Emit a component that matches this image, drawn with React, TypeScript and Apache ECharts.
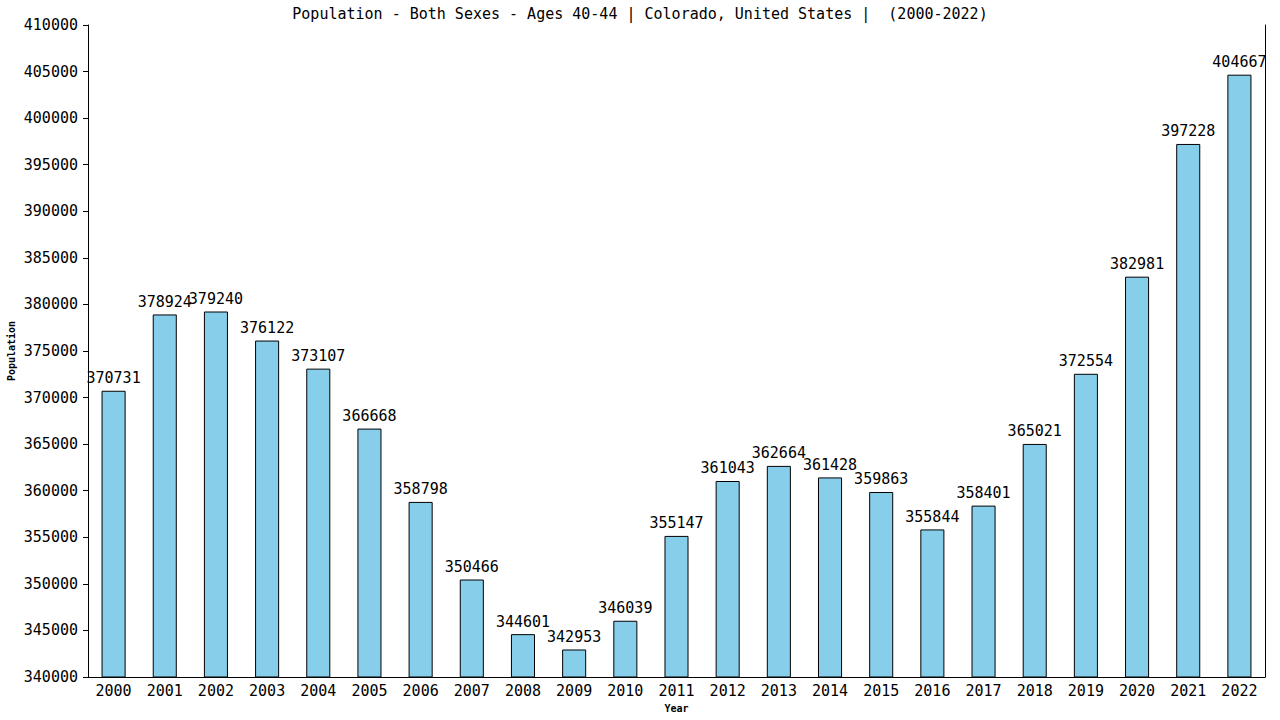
import { useEffect, useRef } from "react";
import * as echarts from "echarts";

const years = [
  "2000", "2001", "2002", "2003", "2004", "2005", "2006", "2007", "2008", "2009", "2010", "2011",
  "2012", "2013", "2014", "2015", "2016", "2017", "2018", "2019", "2020", "2021", "2022",
];
const population = [
  370731, 378924, 379240, 376122, 373107, 366668, 358798, 350466, 344601, 342953, 346039, 355147,
  361043, 362664, 361428, 359863, 355844, 358401, 365021, 372554, 382981, 397228, 404667,
];

const FONT = "DejaVu Sans Mono";

const App = () => {
  const chartRef = useRef<HTMLDivElement>(null);

  useEffect(() => {
    if (!chartRef.current) return;
    const chart = echarts.init(chartRef.current, null, { renderer: "svg" });

    chart.setOption({
      animation: false,
      title: {
        text: "Population - Both Sexes - Ages 40-44 | Colorado, United States |  (2000-2022)",
        left: "center",
        top: 1,
        textStyle: { fontFamily: FONT, fontSize: 15, fontWeight: "normal", color: "#000" },
      },
      grid: { left: 88, right: 15, top: 25, bottom: 43, outerBoundsMode: "none" },
      xAxis: {
        type: "category",
        data: years,
        name: "Year",
        nameLocation: "middle",
        nameGap: 26,
        nameMoveOverlap: false,
        nameTextStyle: { fontFamily: FONT, fontSize: 10, fontWeight: "bold", color: "#000" },
        axisLine: { lineStyle: { color: "#000", width: 1 } },
        axisTick: { show: false },
        axisLabel: { fontFamily: FONT, fontSize: 15, color: "#000", margin: 6 },
      },
      yAxis: [
        {
          type: "value",
          min: 340000,
          max: 410000,
          interval: 5000,
          name: "Population",
          nameLocation: "middle",
          nameGap: 72,
          nameMoveOverlap: false,
          nameTextStyle: { fontFamily: FONT, fontSize: 10, fontWeight: "bold", color: "#000" },
          axisLine: { show: true, lineStyle: { color: "#000", width: 1 } },
          axisTick: { show: true, length: 5, lineStyle: { color: "#000" } },
          axisLabel: {
            fontFamily: FONT,
            fontSize: 15,
            color: "#000",
            margin: 10,
            formatter: (v: number) => String(v),
          },
          splitLine: { show: false },
        },
        {
          type: "value",
          position: "right",
          min: 340000,
          max: 410000,
          axisLine: { show: true, lineStyle: { color: "#000", width: 1 } },
          axisTick: { show: false },
          axisLabel: { show: false },
          splitLine: { show: false },
        },
      ],
      series: [
        {
          type: "bar",
          data: population,
          barWidth: "47%",
          itemStyle: { color: "#87CEEB", borderColor: "#000", borderWidth: 1 },
          label: {
            show: true,
            position: "top",
            distance: 5,
            fontFamily: FONT,
            fontSize: 15,
            color: "#000",
          },
        },
      ],
    });

    return () => chart.dispose();
  }, []);

  return (
    <div
      ref={chartRef}
      style={{ position: "fixed", left: 0, top: 0, width: 1280, height: 720, background: "#fff" }}
    />
  );
};

export default App;
